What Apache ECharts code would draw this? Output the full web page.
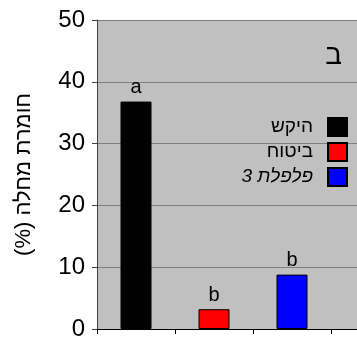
<!DOCTYPE html>
<html>
<head>
<meta charset="utf-8">
<script src="https://cdn.jsdelivr.net/npm/echarts@6/dist/echarts.min.js"></script>
<style>
  html, body { margin: 0; padding: 0; background: #fff; overflow: hidden; }
  /* the plot runs on past the right edge of the page, so the canvas is wider than the window */
  #chart { width: 420px; height: 346px; }
</style>
</head>
<body>
<div id="chart"></div>
<script>
// Disease severity per treatment (panel ב)
const categories = ['1', '2', '3', '4'];
const treatments = ['היקש', 'ביטוח', 'פלפלת 3'];
const severity = [36.8, 3.2, 8.8];
const letters = ['a', 'b', 'b'];
const colors = ['#000000', '#ff0000', '#0000ff'];
const yTicks = { min: 0, max: 50, step: 10 };

const FONT = 'Arial, "Liberation Sans", sans-serif';

const series = treatments.map((name, i) => ({
  name: name,
  type: 'bar',
  barWidth: 31,
  barGap: '-100%',
  itemStyle: { color: colors[i], borderColor: '#000', borderWidth: 1 },
  label: {
    show: true,
    position: 'top',
    distance: 4,
    formatter: () => letters[i],
    color: '#000',
    fontFamily: FONT,
    fontSize: 20
  },
  data: categories.map((c, k) => (k === i ? severity[i] : '-'))
}));

const chart = echarts.init(document.getElementById('chart'), null, { renderer: 'canvas' });
chart.setOption({
  animation: false,
  backgroundColor: '#ffffff',
  title: {
    text: 'ב',
    right: 73,
    top: 37,
    textStyle: { fontFamily: FONT, fontSize: 28, fontWeight: 'normal', color: '#000' }
  },
  legend: {
    orient: 'vertical',
    right: 67,
    top: 112,
    align: 'right',
    itemWidth: 19,
    itemHeight: 18,
    itemGap: 5,
    icon: 'rect',
    textStyle: { fontFamily: FONT, fontSize: 19, color: '#000', padding: [0, 10, 0, 0] },
    data: [
      { name: treatments[0] },
      { name: treatments[1] },
      { name: treatments[2], textStyle: { fontStyle: 'italic' } }
    ]
  },
  grid: {
    left: 97,
    top: 20,
    bottom: 17,
    width: 312,
    show: true,
    backgroundColor: '#c0c0c0',
    borderWidth: 0
  },
  xAxis: {
    type: 'category',
    data: categories,
    axisLine: { lineStyle: { color: '#000', width: 1 } },
    axisTick: { show: true, length: 5, lineStyle: { color: '#000' } },
    axisLabel: { show: false },
    splitLine: { show: false }
  },
  yAxis: {
    type: 'value',
    min: yTicks.min,
    max: yTicks.max,
    interval: yTicks.step,
    name: 'חומרת מחלה (%)\u200F',
    nameLocation: 'middle',
    nameRotate: 90,
    nameGap: 62,
    nameTextStyle: { fontFamily: FONT, fontSize: 22, color: '#000' },
    axisLine: { show: true, lineStyle: { color: '#404040', width: 1 } },
    axisTick: { show: true, length: 5, lineStyle: { color: '#404040' } },
    axisLabel: { fontFamily: FONT, fontSize: 24, color: '#000', margin: 12 },
    splitLine: { show: true, lineStyle: { color: '#808080', width: 1 } }
  },
  series: series
});
</script>
</body>
</html>
